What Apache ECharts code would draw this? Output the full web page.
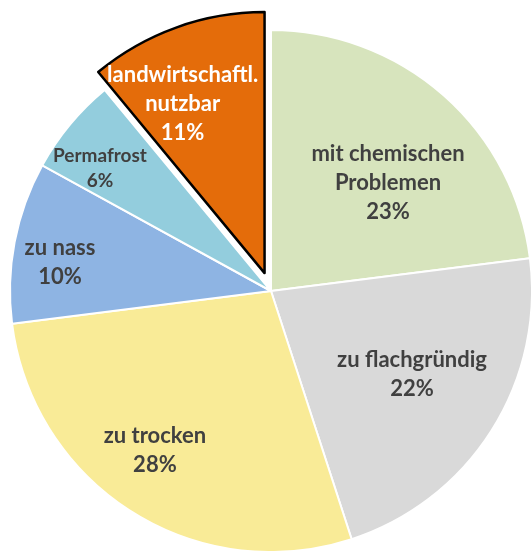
<!DOCTYPE html>
<html>
<head>
<meta charset="utf-8">
<script src="https://cdn.jsdelivr.net/npm/echarts@6/dist/echarts.min.js"></script>
<style>
html,body{margin:0;padding:0;background:#fff;}
#chart{width:531px;height:551px;}
</style>
</head>
<body>
<div id="chart"></div>
<script>
var names = ['mit chemischen\nProblemen', 'zu flachgründig', 'zu trocken', 'zu nass', 'Permafrost', 'landwirtschaftl.\nnutzbar'];
var values = [23, 22, 28, 10, 6, 11];
var colors = ['#d7e4bd', '#d9d9d9', '#f9eb97', '#8eb4e3', '#93cddd', '#e46c0a'];
// label placement: share of radius, and turn (deg) off the slice middle
var labelDist = [0.61, 0.627, 0.755, 0.816, 0.807, 0.715];
var labelTurn = [5.9, -1.9, 3.7, -3.0, -3.9, -5.9];

var cx = 271, cy = 291, R = 261, explode = 19, lineH = 29;
var cut = 5;   // the pulled out slice
var total = values.reduce(function (a, b) { return a + b; }, 0);

function midAngle(i) {
    var s = 0;
    for (var k = 0; k < i; k++) s += values[k];
    return (s + values[i] / 2) / total * 2 * Math.PI;   // clockwise from top
}
function labelPos(i) {
    var b = midAngle(i) + labelTurn[i] * Math.PI / 180;
    var d = labelDist[i] * R;
    return [d * Math.sin(b), -d * Math.cos(b)];
}

// selected slice keeps its label at the default spot (half radius),
// so push it sideways with padding and up with empty lines
var ca = midAngle(cut);
var want = labelPos(cut);
var offX = want[0] - R / 2 * Math.sin(ca);
var offY = want[1] + R / 2 * Math.cos(ca);
var cutPad = [0, Math.max(-2 * offX, 0), 0, Math.max(2 * offX, 0)];
var cutTail = new Array(Math.max(Math.round(-2 * offY / lineH), 0) + 1).join('\n');

var myChart = echarts.init(document.getElementById('chart'));
var data = values.map(function (v, i) {
    var item = {
        name: names[i],
        value: v,
        itemStyle: { color: colors[i], borderColor: '#fff', borderWidth: 2 }
    };
    if (i == 4) item.label = { fontSize: 19, lineHeight: 25 };
    if (i == cut) {
        item.selected = true;
        item.itemStyle = { color: colors[i], borderColor: '#000', borderWidth: 2.5 };
        item.label = { color: '#fff', padding: cutPad, formatter: '{b}\n{c}%' + cutTail };
    }
    return item;
});

option = {
    animation: false,
    series: [
        {
            type: 'pie',
            center: [cx, cy],
            radius: [0, R],
            startAngle: 90,
            clockwise: true,
            selectedMode: 'single',
            selectedOffset: explode,
            emphasis: { disabled: true },
            label: {
                show: true,
                position: 'inside',
                formatter: '{b}\n{c}%',
                color: '#404040',
                fontFamily: 'Lato',
                fontWeight: 'bold',
                fontSize: 22,
                lineHeight: lineH
            },
            labelLine: { show: false },
            labelLayout: function (params) {
                var i = params.dataIndex;
                if (i == cut) return {};
                var p = labelPos(i);
                return {
                    x: cx + p[0],
                    y: cy + p[1],
                    align: 'center',
                    verticalAlign: 'middle'
                };
            },
            data: data
        }
    ]
};
myChart.setOption(option, true);
</script>
</body>
</html>
